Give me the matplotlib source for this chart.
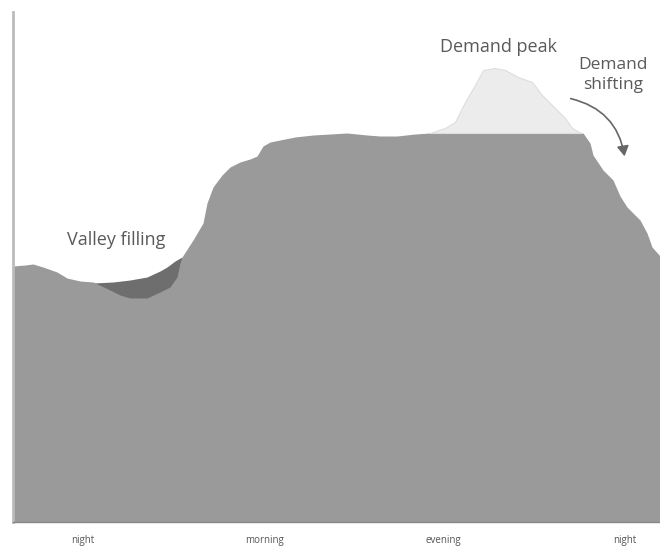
import matplotlib.pyplot as plt
from matplotlib.patches import FancyArrowPatch

plt.rcParams['font.family'] = ['Open Sans', 'DejaVu Sans']

# load curve over the day (arbitrary time / load units)
base_x = [0, 12, 20, 30, 44, 54, 67, 80, 97, 107, 117, 134, 147, 157, 164, 167, 169,
          180, 190, 194, 200, 209, 217, 227, 237, 244, 250, 257, 267, 282, 300,
          317, 334, 354, 367, 384, 402, 417, 570, 577, 580, 590, 600, 607, 614,
          627, 634, 639, 647]
base_y = [256, 257, 258, 255, 250, 244, 241, 240, 232, 227, 224, 224, 230, 235, 245,
          259, 265, 282, 299, 319, 335, 347, 355, 360, 363, 366, 376, 380, 382,
          385, 387, 388, 389, 387, 386, 386, 388, 389, 389, 379, 367, 352, 342,
          326, 315, 302, 289, 275, 266]

# shaved-off demand peak
peak_x = [417, 432, 442, 452, 462, 470, 482, 492, 505, 519, 529, 542, 552, 559, 568]
peak_y = [389, 394, 400, 420, 437, 452, 454, 452, 445, 440, 427, 414, 404, 394, 389]
peak_cap = 389

# filled valley
valley_x = [80, 100, 117, 134, 147, 154, 162, 169]
valley_y = [239, 240, 242, 245, 251, 255, 261, 265]

tick_pos = [70, 252, 430, 612]
tick_labels = ['night', 'morning', 'evening', 'night']

fig = plt.figure(figsize=(6.6, 5.47), dpi=100)
ax = fig.add_axes([13 / 660, 25 / 547, 647 / 660, 510 / 547])

ax.fill_between(valley_x, 0, valley_y, color='#6e6e6e', lw=0, zorder=1)
ax.fill_between(base_x, 0, base_y, color='#9a9a9a', lw=0, zorder=2)
ax.fill_between(peak_x, peak_cap, peak_y, color='#ececec', edgecolor='#dedede',
                lw=0.8, zorder=2)

txt = '#5a5a5a'
ax.text(485, 475, 'Demand peak', ha='center', va='center', fontsize=13, color=txt)
ax.text(600, 447, 'Demand\nshifting', ha='center', va='center', fontsize=12.5,
        color=txt, linespacing=1.35)
ax.text(103, 282, 'Valley filling', ha='center', va='center', fontsize=13, color=txt)

arr = FancyArrowPatch((555, 424), (612, 363), connectionstyle='arc3,rad=-0.35',
                      arrowstyle='-|>,head_length=6,head_width=3.5',
                      color='#666666', lw=1.2, zorder=3)
ax.add_patch(arr)

ax.set_xlim(0, 647)
ax.set_ylim(0, 510)
ax.set_xticks(tick_pos)
ax.set_xticklabels(tick_labels)
ax.tick_params(axis='x', length=0, pad=9, labelsize=7, labelcolor='#555555')
ax.set_yticks([])
for s in ['top', 'right']:
    ax.spines[s].set_visible(False)
ax.spines['left'].set_color('#bbbbbb')
ax.spines['left'].set_linewidth(2)
ax.spines['bottom'].set_color('#888888')
ax.spines['bottom'].set_linewidth(1)

fig.savefig('out.png', dpi=100)
